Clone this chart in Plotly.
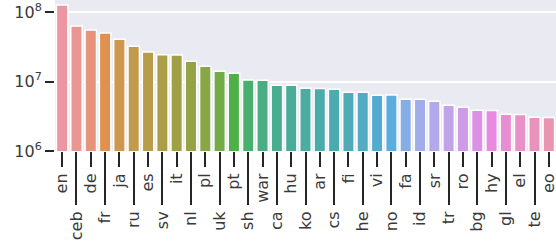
import math, colorsys
import plotly.graph_objects as go

categories = ["en", "ceb", "de", "fr", "ja", "ru", "es", "sv", "it", "nl", "pl", "uk",
              "pt", "sh", "war", "ca", "hu", "ko", "ar", "cs", "fi", "he", "vi", "no",
              "fa", "id", "sr", "tr", "ro", "bg", "hy", "gl", "el", "te", "eo"]
values = [1.26e8, 6.3e7, 5.5e7, 4.97e7, 4.07e7, 3.23e7, 2.65e7, 2.42e7, 2.40e7, 1.96e7,
          1.66e7, 1.41e7, 1.32e7, 1.05e7, 1.045e7, 8.85e6, 8.8e6, 8.0e6, 7.95e6, 7.74e6,
          7.0e6, 6.98e6, 6.35e6, 6.4e6, 5.56e6, 5.54e6, 5.2e6, 4.55e6, 4.26e6, 3.85e6,
          3.84e6, 3.37e6, 3.36e6, 3.05e6, 3.04e6]
ytick_vals = [1e6, 1e7, 1e8]
ytick_text = ["10<sup>6</sup>", "10<sup>7</sup>", "10<sup>8</sup>"]

# --- seaborn-like "husl" palette, desaturated (barplot default) ---
M = [[3.2406, -1.5372, -0.4986], [-0.9689, 1.8758, 0.0415], [0.0557, -0.2040, 1.0570]]
refU, refV = 0.19784, 0.46834

def max_chroma(L, H):
    hr = math.radians(H)
    sH, cH = math.sin(hr), math.cos(hr)
    sub1 = (L + 16) ** 3 / 1560896.0
    sub2 = sub1 if sub1 > 0.008856 else L / 903.3
    res = float("inf")
    for m1, m2, m3 in M:
        top = (0.99915 * m1 + 1.05122 * m2 + 1.14460 * m3) * sub2
        rb = 0.86330 * m3 - 0.17266 * m2
        lb = 0.12949 * m3 - 0.38848 * m1
        bottom = (rb * sH + lb * cH) * sub2
        for t in (0.0, 1.0):
            C = L * (top - 1.05122 * t) / (bottom + 0.17266 * sH * t)
            if 0 < C < res:
                res = C
    return res

def husl_to_rgb(H, S, L):
    C = max_chroma(L, H) / 100.0 * S
    hr = math.radians(H)
    U, V = math.cos(hr) * C, math.sin(hr) * C
    t = (L + 16.0) / 116.0
    Y = t ** 3 if t ** 3 > 0.008856 else (116 * t - 16) / 903.3
    vu = U / (13.0 * L) + refU
    vv = V / (13.0 * L) + refV
    X = -(9.0 * Y * vu) / ((vu - 4.0) * vv - vu * vv)
    Z = (9.0 * Y - 15.0 * vv * Y - vv * X) / (3.0 * vv)
    out = []
    for row in M:
        c = row[0] * X + row[1] * Y + row[2] * Z
        c = 12.92 * c if c <= 0.0031308 else 1.055 * c ** (1 / 2.4) - 0.055
        out.append(min(max(c, 0), 1))
    return out

def palette(n, h=0.01, s=0.9, l=0.7, sat=0.75):
    cols = []
    for i in range(n):
        hue = ((i / n + h) % 1) * 359
        r, g, b = husl_to_rgb(hue, s * 99, l * 99)
        hh, ll, ss = colorsys.rgb_to_hls(r, g, b)
        r, g, b = colorsys.hls_to_rgb(hh, ll, ss * sat)
        cols.append("rgb(%d,%d,%d)" % (round(r * 255), round(g * 255), round(b * 255)))
    return cols

colors = palette(len(categories))
even = categories[0::2]
odd = categories[1::2]

fig = go.Figure()
fig.add_trace(go.Bar(x=categories, y=values, width=0.8,
                     marker=dict(color=colors, line=dict(color="white", width=1.5)),
                     showlegend=False))
fig.add_trace(go.Scatter(x=categories, y=values, xaxis="x2", mode="markers",
                         marker=dict(opacity=0), hoverinfo="skip", showlegend=False))

font = dict(family="DejaVu Sans", size=16, color="#3a3a3a")
common = dict(type="category", categoryorder="array", categoryarray=categories,
              range=[-0.5, len(categories) - 0.5], showgrid=False, zeroline=False,
              ticks="outside", tickcolor="#262626", tickwidth=1.5, tickangle=-90,
              tickfont=font, showline=False, automargin=False)
fig.update_layout(
    width=556, height=246,
    margin=dict(l=55, r=0, t=0, b=95, autoexpand=False),
    paper_bgcolor="white", plot_bgcolor="#EAEAF2",
    bargap=0.2,
    xaxis=dict(**common, tickvals=even, ticklen=15),
    xaxis2=dict(**common, tickvals=odd, ticklen=53, overlaying="x", side="bottom",
                anchor="y"),
    yaxis=dict(type="log", range=[6, 8.173], tickvals=ytick_vals, ticktext=ytick_text,
               showgrid=True, gridcolor="white", gridwidth=2, zeroline=False,
               ticks="outside", ticklen=9, tickcolor="#262626", tickwidth=1.5,
               tickfont=font, automargin=False),
)
fig.write_html("out.html", config={"displayModeBar": False},
               post_script="document.body.style.margin='0';document.body.style.padding='0';")
